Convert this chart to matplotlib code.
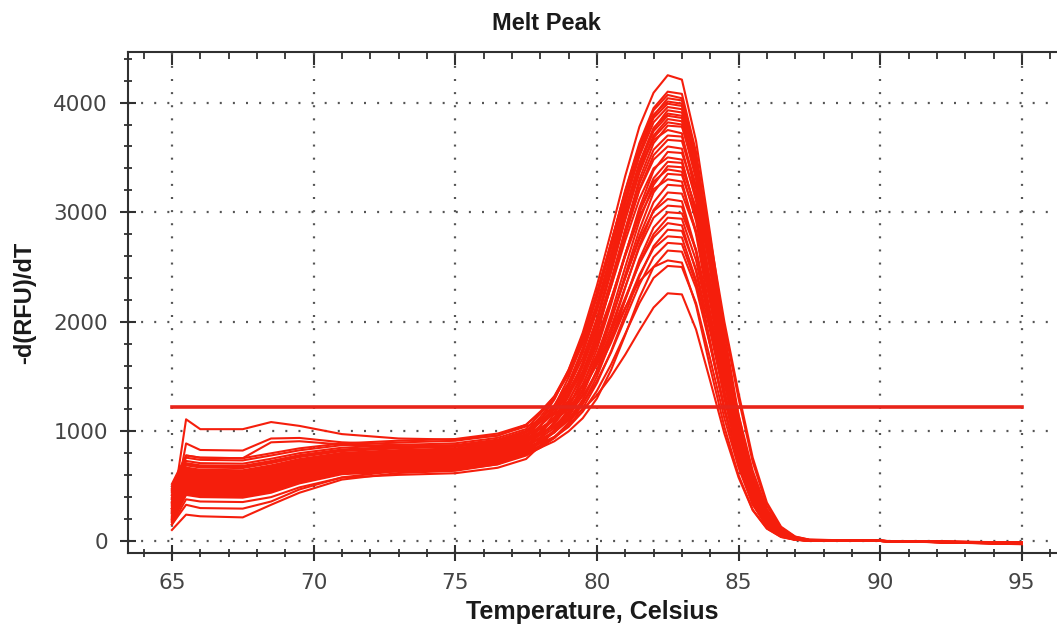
import numpy as np
import matplotlib
matplotlib.use('Agg')
import matplotlib.pyplot as plt
from matplotlib.ticker import MultipleLocator

# temperature points (Celsius) shared by every well
temps = [65, 65.5, 66, 67.5, 68.5, 69.5, 71, 73, 75, 76.5, 77.5, 78, 78.5, 79, 79.5, 80, 80.5, 81,
         81.5, 82, 82.5, 83, 83.5, 84, 84.5, 85, 85.5, 86, 86.5, 87, 87.5, 90, 95]

# -d(RFU)/dT per well
w01 = [350, 620, 600, 595, 640, 703, 765, 790, 805, 855, 935, 1100, 1290, 1560, 1900, 2330, 2820, 3330, 3780, 4090, 4250, 4210, 3650, 2800, 1900, 1150, 580, 240, 80, 25, 8, 0, -30]
w02 = [300, 560, 540, 535, 580, 649, 718, 743, 758, 808, 888, 1050, 1230, 1490, 1820, 2240, 2720, 3200, 3630, 3950, 4100, 4080, 3550, 2700, 1820, 1100, 550, 230, 75, 22, 6, 0, -28]
w03 = [450, 700, 680, 675, 720, 774, 827, 852, 867, 917, 997, 1130, 1300, 1540, 1860, 2260, 2720, 3190, 3610, 3930, 4070, 4040, 3480, 2620, 1750, 1040, 510, 210, 70, 20, 5, 0, -25]
w04 = [220, 480, 460, 455, 500, 578, 656, 681, 696, 746, 826, 990, 1160, 1400, 1720, 2120, 2600, 3080, 3530, 3880, 4040, 4020, 3500, 2680, 1800, 1080, 540, 225, 75, 22, 6, 0, -26]
w05 = [500, 730, 710, 705, 750, 801, 851, 876, 891, 941, 1021, 1160, 1320, 1560, 1870, 2270, 2720, 3180, 3590, 3890, 4010, 3990, 3420, 2560, 1700, 1000, 490, 200, 65, 18, 5, 0, -24]
w06 = [250, 1110, 1020, 1020, 1085, 1050, 975, 935, 925, 960, 1060, 1180, 1320, 1540, 1830, 2220, 2670, 3130, 3550, 3860, 3990, 3970, 3450, 2620, 1760, 1050, 520, 215, 70, 20, 5, 0, -25]
w07 = [350, 590, 570, 565, 610, 676, 742, 767, 782, 832, 912, 1050, 1210, 1440, 1760, 2160, 2620, 3090, 3510, 3820, 3960, 3940, 3440, 2640, 1790, 1080, 540, 225, 75, 22, 6, 0, -26]
w08 = [180, 430, 410, 405, 450, 534, 617, 642, 657, 707, 787, 930, 1090, 1320, 1630, 2030, 2500, 2990, 3440, 3760, 3930, 3910, 3480, 2760, 2000, 1350, 760, 350, 130, 40, 12, 0, -28]
w09 = [200, 890, 830, 825, 935, 940, 900, 880, 870, 905, 1000, 1110, 1240, 1440, 1730, 2110, 2560, 3030, 3450, 3770, 3900, 3880, 3380, 2580, 1740, 1040, 520, 215, 70, 20, 5, 0, -24]
w10 = [420, 660, 640, 635, 680, 738, 796, 821, 836, 886, 966, 1080, 1220, 1430, 1720, 2100, 2540, 3000, 3420, 3740, 3880, 3860, 3330, 2520, 1680, 990, 480, 195, 62, 18, 5, 0, -22]
w11 = [280, 520, 500, 495, 540, 614, 687, 712, 727, 777, 857, 980, 1120, 1330, 1620, 2000, 2450, 2930, 3370, 3700, 3850, 3830, 3360, 2590, 1760, 1060, 530, 225, 75, 22, 6, 0, -25]
w12 = [300, 780, 760, 755, 900, 910, 880, 860, 860, 900, 990, 1090, 1210, 1400, 1670, 2030, 2470, 2940, 3360, 3680, 3820, 3800, 3300, 2500, 1680, 1000, 490, 200, 65, 18, 5, 0, -23]
w13 = [150, 380, 360, 355, 400, 489, 578, 603, 618, 668, 748, 870, 1010, 1210, 1500, 1880, 2340, 2840, 3300, 3630, 3790, 3780, 3380, 2680, 1950, 1300, 720, 320, 120, 38, 11, 0, -27]
w14 = [520, 780, 760, 755, 800, 845, 890, 915, 930, 980, 1060, 1170, 1310, 1520, 1800, 2160, 2580, 3020, 3410, 3660, 3750, 3720, 3150, 2340, 1540, 900, 430, 175, 55, 15, 4, 0, -20]
w15 = [330, 570, 550, 545, 590, 658, 726, 751, 766, 816, 896, 1000, 1130, 1320, 1590, 1950, 2380, 2840, 3260, 3570, 3700, 3690, 3240, 2480, 1680, 1010, 500, 210, 70, 20, 5, 0, -24]
w16 = [250, 500, 480, 475, 520, 596, 672, 697, 712, 762, 842, 950, 1080, 1270, 1540, 1900, 2330, 2790, 3210, 3520, 3660, 3650, 3220, 2490, 1700, 1030, 520, 220, 72, 21, 6, 0, -25]
w17 = [400, 640, 620, 615, 660, 720, 781, 806, 821, 871, 951, 1050, 1170, 1350, 1610, 1950, 2360, 2800, 3200, 3480, 3600, 3580, 3100, 2340, 1560, 920, 450, 185, 60, 17, 5, 0, -22]
w18 = [200, 450, 430, 425, 470, 551, 632, 657, 672, 722, 802, 900, 1010, 1180, 1420, 1750, 2160, 2610, 3040, 3380, 3550, 3540, 3150, 2480, 1760, 1150, 640, 290, 105, 32, 9, 0, -24]
w19 = [460, 690, 670, 665, 710, 765, 820, 845, 860, 910, 990, 1090, 1200, 1370, 1610, 1930, 2320, 2740, 3120, 3400, 3500, 3480, 2980, 2220, 1460, 850, 410, 165, 52, 14, 4, 0, -20]
w20 = [320, 550, 530, 525, 570, 640, 710, 735, 750, 800, 880, 970, 1070, 1230, 1470, 1790, 2180, 2610, 3010, 3310, 3460, 3450, 3010, 2300, 1560, 940, 470, 195, 64, 18, 5, 0, -22]
w21 = [150, 330, 300, 295, 360, 470, 580, 640, 660, 720, 830, 910, 1000, 1150, 1370, 1680, 2070, 2500, 2920, 3250, 3420, 3410, 3040, 2380, 1660, 1030, 530, 230, 78, 23, 6, 0, -24]
w22 = [380, 610, 590, 585, 630, 694, 757, 782, 797, 847, 927, 1020, 1120, 1280, 1510, 1820, 2200, 2620, 3000, 3280, 3390, 3370, 2920, 2210, 1480, 880, 430, 175, 56, 16, 4, 0, -21]
w23 = [230, 470, 450, 445, 490, 569, 648, 673, 688, 738, 818, 900, 990, 1130, 1340, 1640, 2010, 2430, 2840, 3180, 3350, 3340, 2960, 2330, 1650, 1080, 600, 270, 98, 30, 9, 0, -22]
w24 = [480, 710, 690, 685, 730, 783, 835, 860, 875, 925, 1005, 1090, 1180, 1330, 1550, 1850, 2210, 2600, 2960, 3210, 3300, 3280, 2800, 2080, 1370, 800, 385, 155, 50, 14, 4, 0, -19]
w25 = [290, 530, 510, 505, 550, 623, 695, 720, 735, 785, 865, 940, 1030, 1170, 1380, 1660, 2010, 2400, 2780, 3090, 3250, 3240, 2830, 2170, 1470, 880, 440, 180, 60, 17, 5, 0, -21]
w26 = [170, 420, 400, 395, 440, 525, 609, 634, 649, 699, 779, 850, 940, 1080, 1280, 1560, 1910, 2310, 2700, 3020, 3180, 3170, 2820, 2220, 1580, 1030, 570, 255, 92, 28, 8, 0, -22]
w27 = [420, 650, 630, 625, 670, 729, 788, 813, 828, 878, 958, 1030, 1110, 1240, 1430, 1700, 2030, 2400, 2750, 3010, 3120, 3100, 2650, 1970, 1300, 760, 365, 148, 48, 13, 3, 0, -18]
w28 = [340, 580, 560, 555, 600, 667, 734, 759, 774, 824, 904, 970, 1050, 1180, 1370, 1630, 1950, 2320, 2680, 2950, 3060, 3050, 2640, 2010, 1360, 810, 400, 165, 54, 15, 4, 0, -19]
w29 = [100, 240, 225, 215, 330, 440, 560, 620, 640, 700, 800, 870, 950, 1070, 1250, 1500, 1830, 2200, 2570, 2860, 3000, 2990, 2660, 2080, 1440, 880, 450, 190, 63, 18, 5, 0, -21]
w30 = [260, 510, 490, 485, 530, 605, 679, 704, 719, 769, 849, 910, 990, 1110, 1290, 1540, 1850, 2200, 2540, 2800, 2950, 2940, 2560, 1960, 1330, 800, 395, 162, 53, 15, 4, 0, -18]
w31 = [440, 670, 650, 645, 690, 747, 804, 829, 844, 894, 974, 1030, 1100, 1210, 1380, 1610, 1900, 2220, 2530, 2770, 2900, 2880, 2460, 1820, 1200, 700, 335, 135, 44, 12, 3, 0, -16]
w32 = [210, 460, 440, 435, 480, 560, 640, 665, 680, 730, 810, 870, 940, 1050, 1210, 1440, 1730, 2070, 2410, 2690, 2840, 2830, 2480, 1910, 1310, 790, 395, 163, 54, 15, 4, 0, -18]
w33 = [360, 600, 580, 575, 620, 685, 749, 774, 789, 839, 919, 980, 1050, 1160, 1320, 1540, 1810, 2120, 2430, 2670, 2780, 2770, 2380, 1790, 1200, 710, 345, 140, 46, 13, 3, 0, -16]
w34 = [300, 540, 520, 515, 560, 632, 703, 728, 743, 793, 873, 930, 995, 1100, 1250, 1460, 1720, 2030, 2340, 2590, 2720, 2710, 2350, 1790, 1210, 720, 355, 145, 47, 13, 3, 0, -16]
w35 = [190, 440, 420, 415, 460, 543, 625, 650, 665, 715, 795, 850, 910, 1000, 1120, 1300, 1560, 1880, 2220, 2500, 2650, 2640, 2310, 1780, 1210, 730, 360, 148, 48, 13, 3, 0, -16]
w36 = [470, 760, 740, 735, 780, 827, 874, 899, 914, 964, 1044, 1100, 1160, 1260, 1410, 1610, 1860, 2130, 2370, 2500, 2560, 2540, 2150, 1580, 1040, 600, 285, 115, 37, 10, 3, 0, -14]
w37 = [270, 490, 470, 465, 510, 587, 664, 689, 704, 754, 834, 890, 950, 1040, 1180, 1370, 1610, 1890, 2170, 2400, 2510, 2500, 2170, 1660, 1120, 670, 330, 135, 44, 12, 3, 0, -15]
w38 = [390, 630, 610, 605, 650, 712, 773, 798, 813, 863, 943, 990, 1040, 1110, 1200, 1330, 1500, 1700, 1920, 2130, 2260, 2250, 1930, 1460, 980, 580, 280, 112, 36, 10, 3, 0, -13]

wells = [w01, w02, w03, w04, w05, w06, w07, w08, w09, w10, w11, w12, w13, w14, w15, w16, w17, w18, w19,
         w20, w21, w22, w23, w24, w25, w26, w27, w28, w29, w30, w31, w32, w33, w34, w35, w36, w37, w38]

threshold = 1220
x_ticks = [65, 70, 75, 80, 85, 90, 95]
y_ticks = [0, 1000, 2000, 3000, 4000]

red = '#f51e0c'
dark = '#303030'

fig = plt.figure(figsize=(10.57, 6.39), dpi=100)
ax = fig.add_axes([128/1057, 1-553/639, 1-128/1057, (553-52)/639])

for w in wells:
    ax.plot(temps, w, color=red, lw=1.5)

ax.plot([temps[0], temps[-1]], [threshold, threshold], color='#e8241a', lw=2.6)

ax.set_xlim(63.45, 96.24)
ax.set_ylim(-110, 4462)

ax.set_xticks(x_ticks)
ax.set_yticks(y_ticks)
ax.xaxis.set_minor_locator(MultipleLocator(1))
ax.yaxis.set_minor_locator(MultipleLocator(200))
ax.grid(True, which='major', color='#555555', linestyle=(0, (0.9, 5.0)), lw=1.6)
ax.set_axisbelow(True)

ax.spines['right'].set_visible(False)
ax.spines['top'].set_visible(False)
for s in ['left', 'bottom']:
    ax.spines[s].set_color(dark)
    ax.spines[s].set_linewidth(1.5)

ax.tick_params(which='major', direction='inout', length=11, width=1.5, color=dark,
               labelsize=15.5, labelcolor='#444444')
ax.tick_params(which='minor', direction='inout', length=6, width=1.3, color=dark)
ax.tick_params(axis='x', which='major', pad=9)
ax.tick_params(axis='y', which='major', pad=9)

# top axis: ticks pointing in only
top = ax.secondary_xaxis('top')
top.set_xticks(x_ticks)
top.xaxis.set_minor_locator(MultipleLocator(1))
top.tick_params(which='major', direction='in', length=9, width=1.5, color=dark, labeltop=False)
top.tick_params(which='minor', direction='in', length=5, width=1.3, color=dark)
top.spines['top'].set_color(dark)
top.spines['top'].set_linewidth(1.5)

fig.text(546/1057, 1-23/639, 'Melt Peak', fontsize=17, fontweight='bold', family='Liberation Sans',
         ha='center', va='center', color='#1a1a1a')
ax.set_xlabel('Temperature, Celsius', fontsize=18, fontweight='bold', family='Liberation Sans',
              labelpad=5, color='#1a1a1a')
ax.set_ylabel('-d(RFU)/dT', fontsize=17, fontweight='bold', family='Liberation Sans',
              labelpad=12, color='#1a1a1a')

plt.savefig('out.png', dpi=100)
